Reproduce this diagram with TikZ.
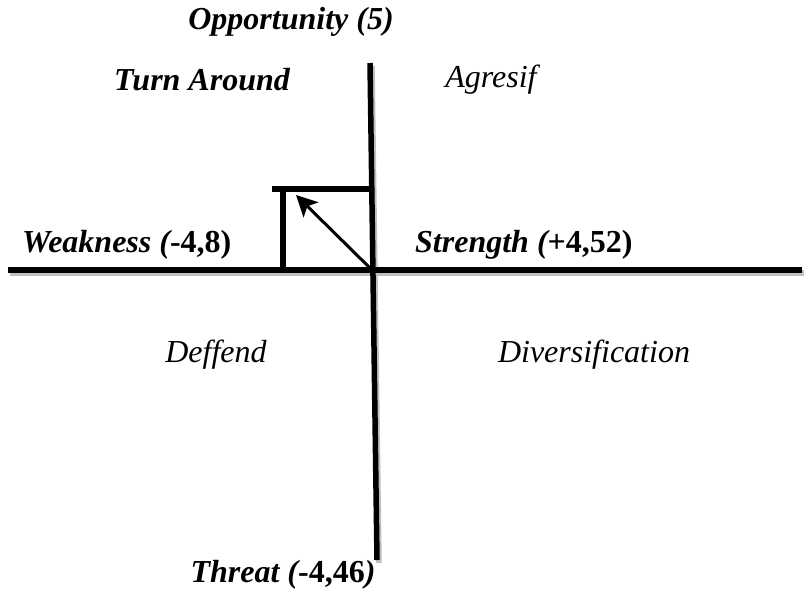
\documentclass[tikz,border=0pt]{standalone}
\usepackage{fontspec}
\setmainfont{Liberation Serif}
\usetikzlibrary{arrows.meta}
\begin{document}
\begin{tikzpicture}[x=1pt,y=-1pt,
  axis/.style={line width=5.5pt,black},
  shadowline/.style={line width=5.5pt,black!25},
  lbl/.style={font=\fontsize{32}{36}\selectfont\bfseries\itshape,inner sep=0pt},
  quad/.style={font=\fontsize{32}{36}\selectfont\itshape,inner sep=0pt}]
\useasboundingbox (0,0) rectangle (806,589);
% coordinates
\coordinate (hl) at (8,270);
\coordinate (hr) at (802,270);
\coordinate (vt) at (370,63);
\coordinate (vb) at (377,560);
\coordinate (rl) at (272,189);
\coordinate (rr) at (372,189);
\coordinate (lt) at (283,189);
\coordinate (lb) at (283,270);
\coordinate (as) at (370,268);
\coordinate (ae) at (296,195);
% shadows
\draw[shadowline] ([shift={(2,3)}]hl) -- ([shift={(2,3)}]hr);
\draw[shadowline] ([shift={(2,3)}]vt) -- ([shift={(2,3)}]vb);
% axes and box
\draw[axis] (hl) -- (hr);
\draw[axis] (vt) -- (vb);
\draw[axis] (rl) -- (rr);
\draw[axis] (lt) -- (lb);
\draw[line width=3pt,-{Stealth[length=21pt,width=21pt,inset=5pt]}] (as) -- (ae);
% labels
\node[lbl] (opp) at (291,22) {Opportunity (5)};
\node[lbl] (turn) at (202,80) {Turn Around};
\node[quad] (agr) at (491,80) {Agresif};
\node[lbl,anchor=west] (weak) at (22,245) {Weakness (\upshape-4,8)};
\node[lbl,anchor=west] (str) at (415,245) {Strength (\upshape+4,52)};
\node[quad] (def) at (216,355) {Deffend};
\node[quad] (div) at (594,355) {Diversification};
\node[lbl] (thr) at (283,575) {Threat ({\upshape-4,46})};
\end{tikzpicture}
\end{document}
